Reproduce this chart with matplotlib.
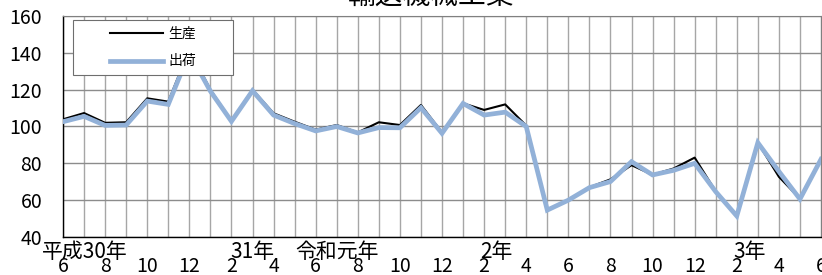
import numpy as np
import matplotlib
matplotlib.use("Agg")
import matplotlib.pyplot as plt
import matplotlib.patches as patches

plt.rcParams["font.family"] = ["Noto Sans CJK JP", "DejaVu Sans"]

# 平成30年6月 〜 令和3年6月 (monthly index)
production = [103.9, 107.3, 102.0, 102.3, 115.3, 113.5, 142.0, 120.0, 103.0, 120.0,
              107.2, 102.6, 98.3, 100.8, 96.8, 102.3, 100.8, 111.7, 96.8, 112.6,
              109.0, 112.0, 100.5, 54.6, 60.0, 67.0, 71.3, 79.0, 73.8, 77.2,
              83.1, 64.8, 51.4, 91.2, 72.7, 60.8, 82.2]
shipment = [102.6, 105.5, 100.6, 100.8, 113.8, 112.0, 140.0, 119.2, 102.8, 119.4,
            106.2, 101.6, 97.6, 100.0, 96.5, 99.4, 99.3, 110.2, 96.3, 112.5,
            106.2, 107.8, 100.0, 54.6, 60.0, 66.8, 70.1, 80.9, 73.7, 76.2,
            80.0, 64.6, 51.4, 91.2, 75.6, 60.6, 82.2]
month_labels = [str((5 + i) % 12 + 1) for i in range(len(production))]
year_labels = ["平成30年", "31年", "令和元年", "2年", "3年"]
year_label_pos = [1.05, 9.0, 13.0, 20.6, 32.6]

fig = plt.figure(figsize=(8.22, 2.75), dpi=100)
ax = fig.add_axes([63 / 822, 1 - 237 / 275, 758 / 822, 221 / 275])

x = np.arange(len(production))
ax.plot(x, production, color="black", linewidth=1.5, zorder=3, label="生産")
ax.plot(x, shipment, color="#92b1d8", linewidth=3.4, zorder=4, label="出荷",
        solid_joinstyle="miter")

ax.set_xlim(0, len(production) - 1)
ax.set_ylim(40, 160)
ax.set_yticks(np.arange(40, 161, 20))
ax.set_xticks(x, minor=False)
ax.set_xticklabels([month_labels[i] if i % 2 == 0 else "" for i in x])
ax.tick_params(axis="both", length=0, labelsize=14)
ax.tick_params(axis="y", pad=15)
ax.tick_params(axis="x", pad=13.5)
ax.grid(True, axis="x", color="#a6a6a6", linewidth=1.0, zorder=1)
ax.grid(True, axis="y", color="#8c8c8c", linewidth=1.0, zorder=1)
ax.set_axisbelow(True)

for side in ["top", "right"]:
    ax.spines[side].set_color("#808080")
for side in ["left", "bottom"]:
    ax.spines[side].set_color("black")
    ax.spines[side].set_linewidth(1.0)

for lbl, pos in zip(year_labels, year_label_pos):
    ax.text(pos, -0.068, lbl, transform=ax.get_xaxis_transform(), ha="center",
            va="center", fontsize=15, clip_on=False)

# legend box
box = patches.Rectangle((10 / 758, 162 / 221), 160 / 758, 55 / 221,
                        transform=ax.transAxes, facecolor="white",
                        edgecolor="#6e6e6e", linewidth=0.8, zorder=5)
ax.add_patch(box)
leg = ax.legend(loc="center", bbox_to_anchor=(90 / 758, 189.5 / 221),
                frameon=False, fontsize=10, handlelength=3.8,
                handletextpad=0.4, labelspacing=1.0)
leg.set_zorder(6)

fig.text(431.5 / 822, 1 + 4 / 275, "輸送機械工業", ha="center", va="center",
         fontsize=20)

fig.savefig("out.png", dpi=100)
